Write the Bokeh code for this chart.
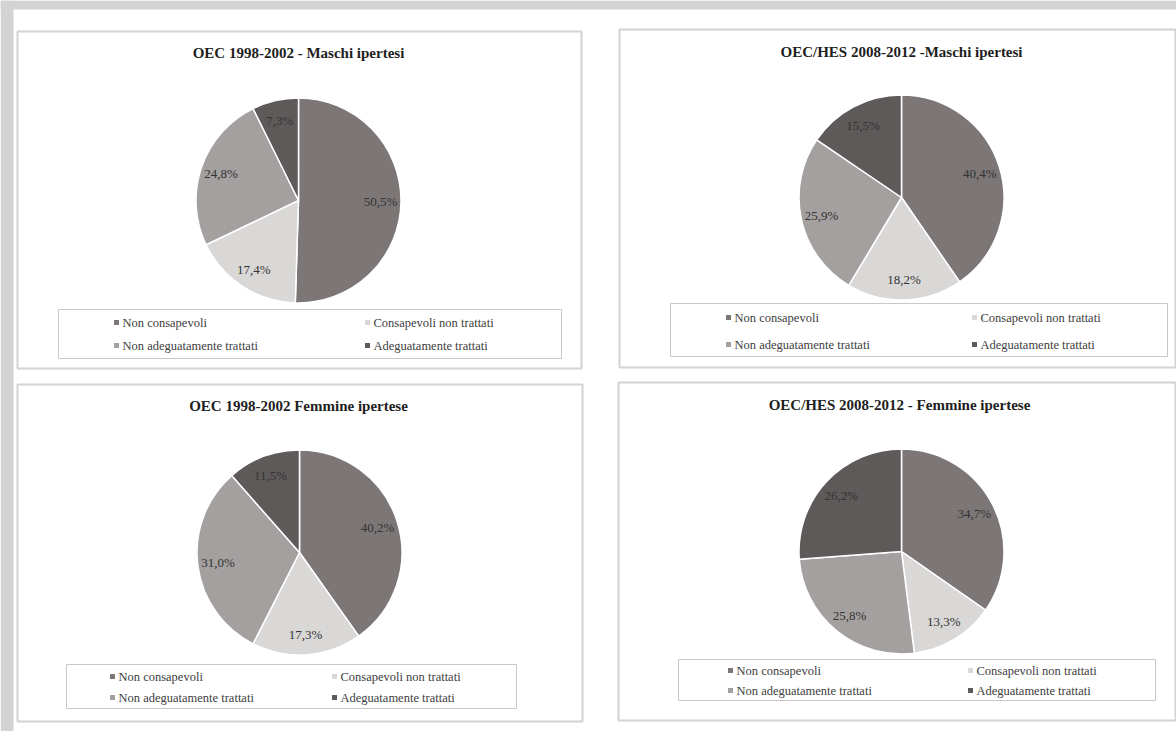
import numpy as np
from bokeh.plotting import figure
from bokeh.models import Range1d, ColumnDataSource
from bokeh.core.properties import value
from bokeh.embed import file_html
from bokeh.resources import INLINE

W, H = 1176, 731

# ---- data -------------------------------------------------------------
categories = [
    "Non consapevoli",
    "Consapevoli non trattati",
    "Non adeguatamente trattati",
    "Adeguatamente trattati",
]
titles = [
    "OEC 1998-2002 - Maschi ipertesi",
    "OEC/HES 2008-2012 -Maschi ipertesi",
    "OEC 1998-2002 Femmine ipertese",
    "OEC/HES 2008-2012 - Femmine ipertese",
]
maschi_1998 = [50.5, 17.4, 24.8, 7.3]
maschi_2008 = [40.4, 18.2, 25.9, 15.5]
femmine_1998 = [40.2, 17.3, 31.0, 11.5]
femmine_2008 = [34.7, 13.3, 25.8, 26.2]
series = [maschi_1998, maschi_2008, femmine_1998, femmine_2008]

# ---- styling ------------------------------------------------------------
slice_colors = ["#7c7776", "#d9d8d7", "#a3a09f", "#5f5a5a"]
FONT = value("Liberation Serif")

# panel layout in page pixels (y measured from the top)
panels = [
    dict(frame=(17, 31, 581, 368), title=(298, 52), center=(298, 200), r=102.5,
         lbox=(58, 309, 561, 358), rows=(322, 345), cols=(116, 367)),
    dict(frame=(619, 29, 1175, 367), title=(901, 51), center=(901, 197), r=102.5,
         lbox=(670, 303, 1167, 356), rows=(317, 344), cols=(728, 974)),
    dict(frame=(17, 384, 582, 721), title=(298, 405), center=(299, 552), r=102.5,
         lbox=(66, 664, 516, 708), rows=(676, 697), cols=(112, 334)),
    dict(frame=(618, 382, 1175, 720), title=(899, 404), center=(901, 551), r=102.5,
         lbox=(678, 659, 1155, 700), rows=(670, 690), cols=(730, 970)),
]


def fy(y):
    return H - y


p = figure(width=W, height=H, x_range=Range1d(0, W), y_range=Range1d(0, H),
           x_axis_type=None, y_axis_type=None, toolbar_location=None,
           output_backend="svg", min_border=0)
p.outline_line_color = None
p.background_fill_color = "white"
p.border_fill_color = "white"
p.xgrid.visible = False
p.ygrid.visible = False

# page margins
p.quad(left=0, right=13, bottom=0, top=H, fill_color="#d2d3d5", line_color=None)
p.quad(left=0, right=W, bottom=fy(9), top=H, fill_color="#d2d3d5", line_color=None)

for vals, title, lay in zip(series, titles, panels):
    x0, y0, x1, y1 = lay["frame"]
    p.quad(left=x0, right=x1, top=fy(y0), bottom=fy(y1), fill_color="white",
           line_color="#d6d2d0", line_width=2)

    tx, ty = lay["title"]
    p.text(x=[tx], y=[fy(ty)], text=[title], text_font=FONT, text_font_size="15px",
           text_font_style="bold", text_color="#1e1e1e", text_align="center",
           text_baseline="middle")

    # slices, clockwise from 12 o'clock
    v = np.array(vals, dtype=float)
    frac = v / v.sum()
    cum = np.concatenate([[0.0], np.cumsum(frac)])
    start = np.pi / 2 - 2 * np.pi * cum[:-1]
    end = np.pi / 2 - 2 * np.pi * cum[1:]
    cx, cy = lay["center"]
    r = lay["r"]
    src = ColumnDataSource(dict(start=start, end=end, color=slice_colors))
    p.wedge(x=cx, y=fy(cy), radius=r, start_angle="start", end_angle="end",
            direction="clock", fill_color="color", line_color="white",
            line_width=1.5, source=src)

    mid = (start + end) / 2
    lx = cx + 0.8 * r * np.cos(mid)
    ly = fy(cy) + 0.8 * r * np.sin(mid)
    labels = [f"{x:.1f}%".replace(".", ",") for x in vals]
    p.text(x=lx, y=ly, text=labels, text_font=FONT, text_font_size="13px",
           text_color="#333333", text_align="center", text_baseline="middle")

    # legend box, two columns
    bx0, by0, bx1, by1 = lay["lbox"]
    p.quad(left=bx0, right=bx1, top=fy(by0), bottom=fy(by1), fill_color=None,
           line_color="#cbc7c5", line_width=1)
    mx = [lay["cols"][i % 2] for i in range(4)]
    my = [fy(lay["rows"][i // 2]) for i in range(4)]
    p.scatter(x=mx, y=my, marker="square", size=5, fill_color=slice_colors,
              line_color=None)
    p.text(x=[m + 6 for m in mx], y=my, text=categories, text_font=FONT,
           text_font_size="12.5px", text_color="#404040", text_align="left",
           text_baseline="middle")

open("out.html", "w").write(file_html(p, INLINE))
